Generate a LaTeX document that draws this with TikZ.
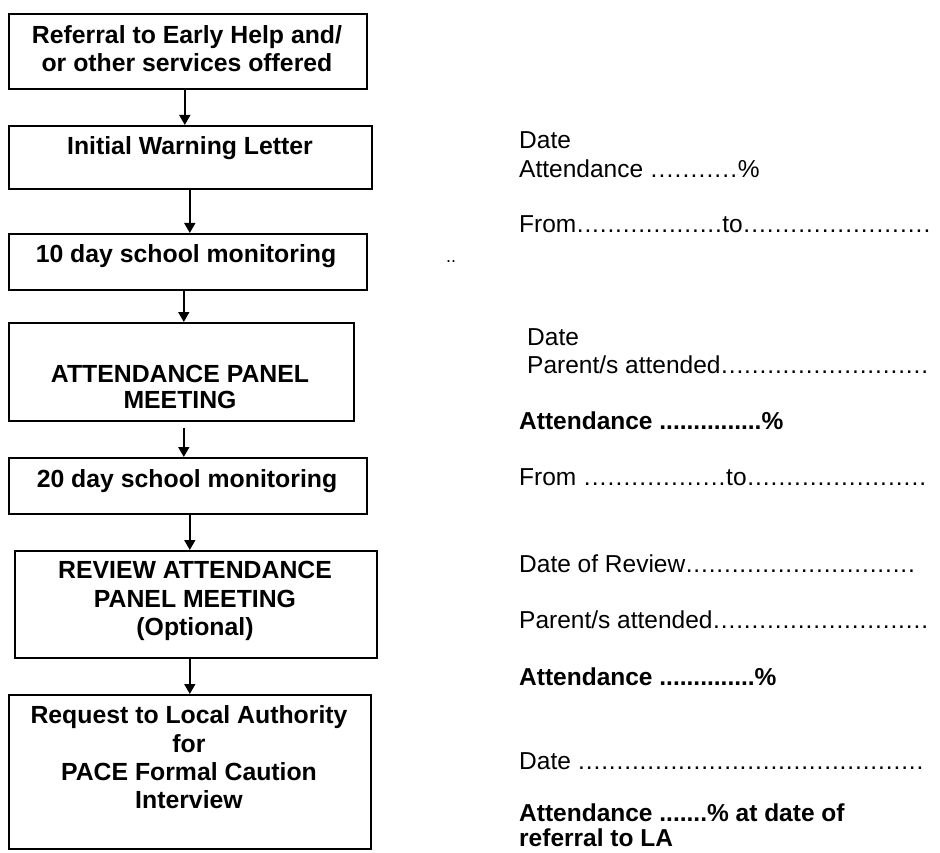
\documentclass[tikz,border=0pt]{standalone}
\usepackage{fontspec}
\setmainfont{Liberation Sans}
\usetikzlibrary{arrows.meta}
\newcommand\dotlead[1]{\xleaders\hbox to 7.6pt{\hss.\hss}\hskip#1pt\relax\kern0pt\relax}
\begin{document}
\begin{tikzpicture}[x=1pt,y=-1pt,
 box/.style={draw,line width=1.6pt,inner sep=0pt,anchor=north west},
 bt/.style={inner sep=0pt,anchor=base,font=\bfseries\fontsize{24.8}{28}\selectfont},
 rt/.style={inner sep=0pt,anchor=base west,font=\fontsize{24.5}{28}\selectfont},
 rb/.style={inner sep=0pt,anchor=base west,font=\bfseries\fontsize{24.5}{28}\selectfont},
 arr/.style={line width=1.5pt,-{Triangle[width=11pt,length=10pt]}}]
\useasboundingbox (0,0) rectangle (940,853);
\clip (0,0) rectangle (940,853);
% boxes
\node[box,minimum width=358pt,minimum height=75pt] (b1) at (8,13) {};
\node[box,minimum width=363pt,minimum height=63pt] (b2) at (8,125) {};
\node[box,minimum width=358pt,minimum height=56pt] (b3) at (8,233) {};
\node[box,minimum width=345pt,minimum height=98pt] (b4) at (8,322) {};
\node[box,minimum width=358pt,minimum height=56pt] (b5) at (8,457) {};
\node[box,minimum width=362pt,minimum height=107pt] (b6) at (14,550) {};
\node[box,minimum width=362pt,minimum height=154pt] (b7) at (8,694) {};
% box texts
\node[bt] (t1a) at (187,44) {Referral to Early Help and/};
\node[bt] (t1b) at (187,72) {or other services offered};
\node[bt] (t2) at (190,155) {Initial Warning Letter};
\node[bt] (t3) at (186,262) {10 day school monitoring};
\node[bt] (t4a) at (180,382) {ATTENDANCE PANEL};
\node[bt] (t4b) at (180,408) {MEETING};
\node[bt] (t5) at (187,487) {20 day school monitoring};
\node[bt] (t6a) at (195,578) {REVIEW ATTENDANCE};
\node[bt] (t6b) at (195,607) {PANEL MEETING};
\node[bt] (t6c) at (195,635) {(Optional)};
\node[bt] (t7a) at (189,723) {Request to Local Authority};
\node[bt] (t7b) at (189,752) {for};
\node[bt] (t7c) at (189,780) {PACE Formal Caution};
\node[bt] (t7d) at (189,808) {Interview};
% arrows
\draw[arr] ([xshift=-3pt]b1.south) -- ([xshift=-3pt]b1.south |- b2.north);
\draw[arr] ([xshift=-0.5pt]b2.south) -- ([xshift=-0.5pt]b2.south |- b3.north);
\draw[arr] ([xshift=-4pt]b3.south) -- ([xshift=-4pt]b3.south |- b4.north);
\draw[arr] ([xshift=2.5pt,yshift=-6pt]b4.south) -- ([xshift=2.5pt]b4.south |- b5.north);
\draw[arr] ([xshift=2pt]b5.south) -- ([xshift=2pt]b5.south |- b6.north);
\draw[arr] ([xshift=-6pt]b6.south) -- ([xshift=-6pt]b6.south |- b7.north);
% right texts
\node[rt] (r1) at (519,149) {Date};
\node[rt] (r2) at (519,178) {Attendance \dotlead{88}\%};
\node[rt] (r3) at (519,233) {From\dotlead{146}to\dotlead{188}};
\node[rt,font=\fontsize{18}{20}\selectfont] (r4) at (446,262) {..};
\node[rt] (r5) at (527,345) {Date};
\node[rt] (r6) at (527,373) {Parent/s attended\dotlead{208}};
\node[rb] (r7) at (519,429) {Attendance ...............\%};
\node[rt] (r8) at (519,485) {From \dotlead{143}to\dotlead{180}};
\node[rt] (r9) at (519,572) {Date of Review\dotlead{230}};
\node[rt] (r10) at (519,628) {Parent/s attended\dotlead{216}};
\node[rb] (r11) at (519,685) {Attendance ..............\%};
\node[rt] (r12) at (519,769) {Date \dotlead{346}};
\node[rb] (r13) at (519,821) {Attendance .......\% at date of};
\node[rb] (r14) at (519,846) {referral to LA};
\end{tikzpicture}
\end{document}
